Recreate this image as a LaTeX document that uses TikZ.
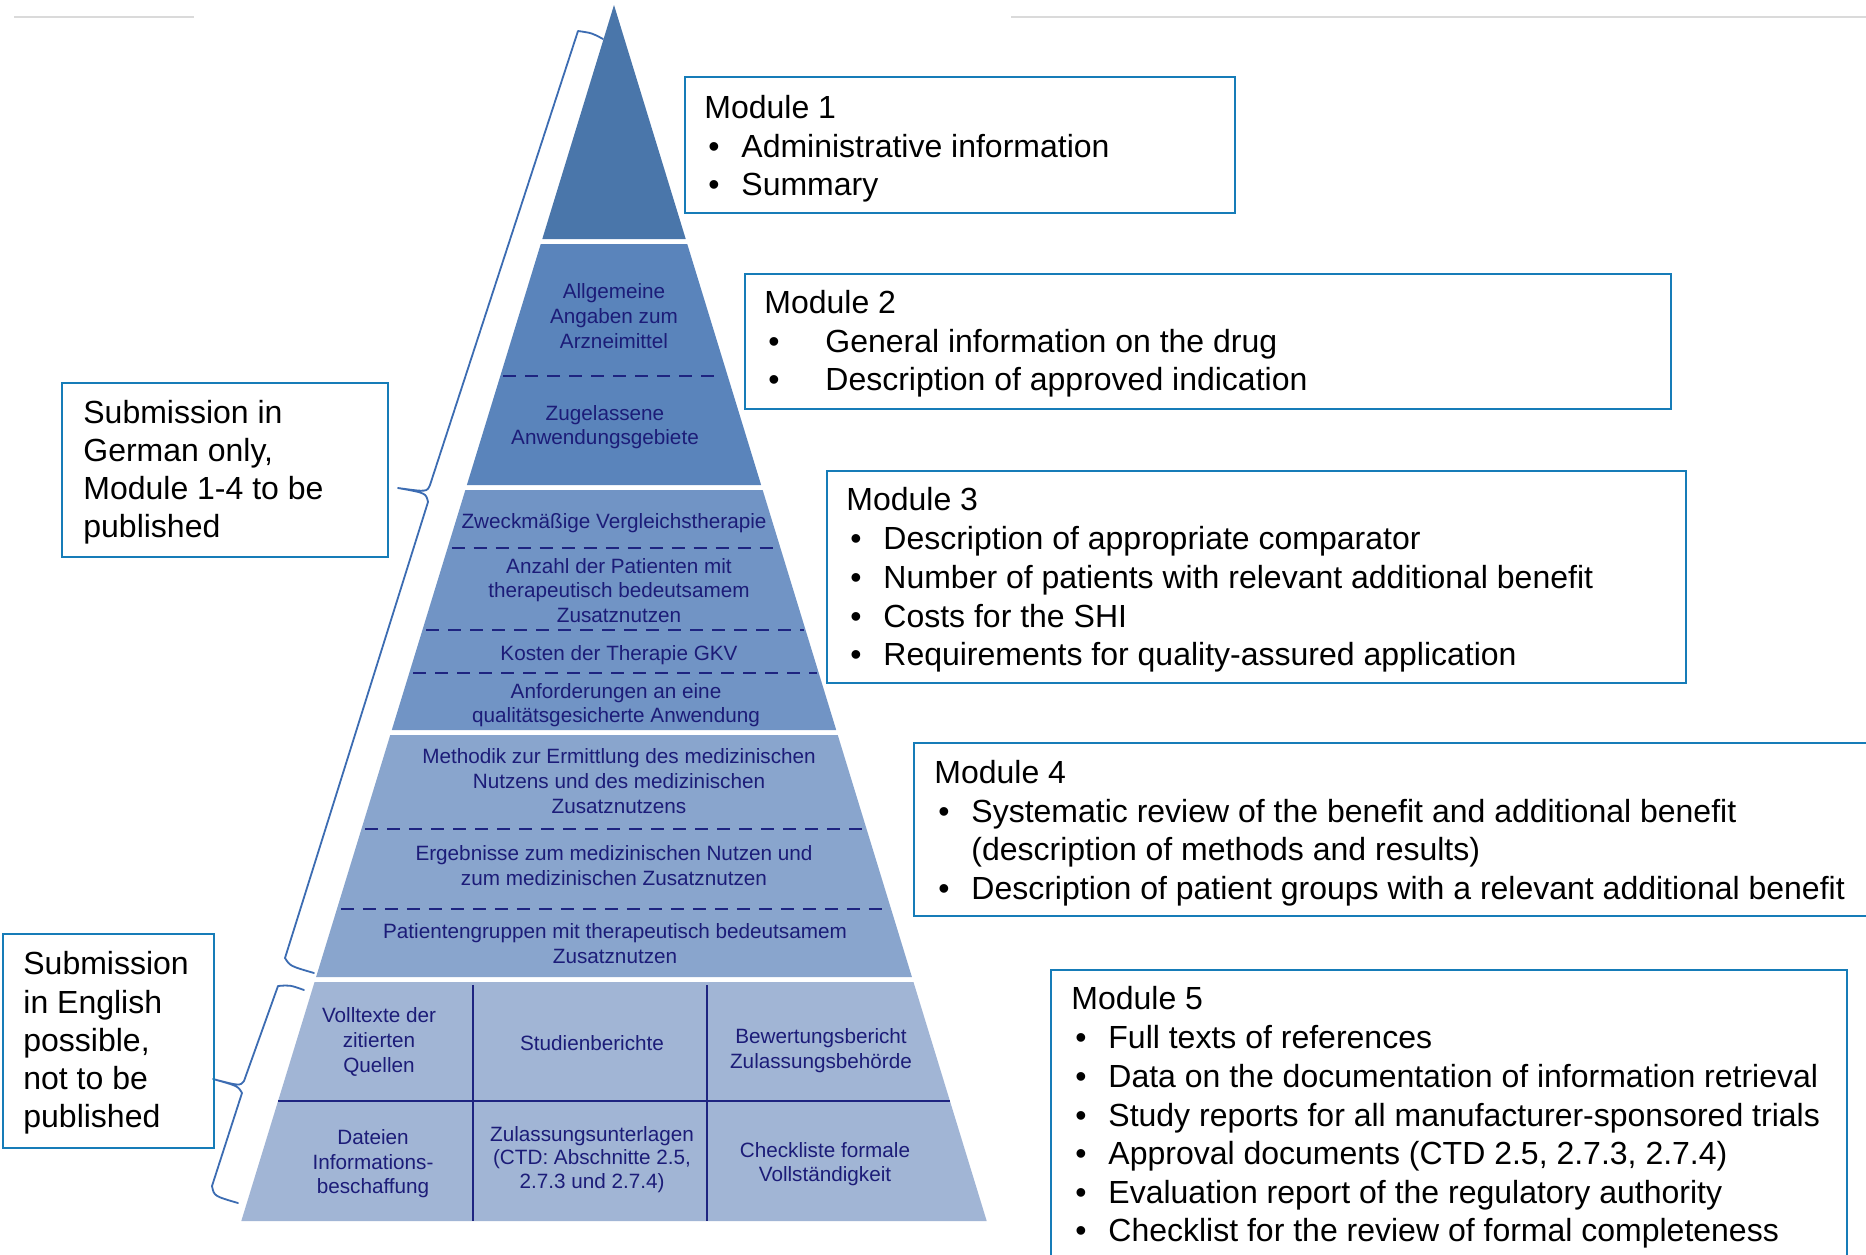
\documentclass[tikz,border=0pt]{standalone}
\usepackage{fontspec}
\setmainfont{Liberation Sans}
\usetikzlibrary{fit}
\definecolor{layA}{RGB}{74,118,170}
\definecolor{layB}{RGB}{90,132,187}
\definecolor{layC}{RGB}{113,148,197}
\definecolor{layD}{RGB}{137,165,205}
\definecolor{layE}{RGB}{161,181,213}
\definecolor{navytxt}{RGB}{28,28,120}
\definecolor{navyln}{RGB}{30,36,128}
\definecolor{boxblue}{RGB}{22,124,184}
\definecolor{braceblue}{RGB}{60,108,178}
\definecolor{topgray}{RGB}{218,218,218}
\newcommand\pyrfont{\fontsize{10.35pt}{12.5pt}\selectfont}
\newcommand\boxfont{\fontsize{16pt}{19.35pt}\selectfont}
\tikzset{
  pyrtxt/.style={font=\pyrfont, text=navytxt, anchor=base, inner sep=0pt},
  boxtxt/.style={font=\boxfont, text=black, anchor=base west, inner sep=0pt},
  mbox/.style={draw=boxblue, line width=1.1pt, inner sep=0pt},
  dashln/.style={draw=navyln, line width=1pt, dash pattern=on 6.5pt off 4.5pt},
  gridln/.style={draw=navyln, line width=1.2pt},
  bracepath/.style={draw=braceblue, line width=0.9pt, line join=round, line cap=round},
  topln/.style={draw=topgray, line width=1.4pt}
}
\begin{document}
\begin{tikzpicture}[x=0.5pt,y=-0.5pt, declare function={hw(\q)=0.3065*(\q-5);}]
\useasboundingbox (0,0) rectangle (1866,1254);
\fill[white] (0,0) rectangle (1866,1254);

% top gray rules
\draw[topln] (14,17) -- (194,17);
\draw[topln] (1011,17) -- (1866,17);

% pyramid layers
\fill[layA] (614,5) -- ({614+hw(239)},239) -- ({614-hw(239)},239) -- cycle;
\fill[layB] ({614-hw(244)},244) -- ({614+hw(244)},244) -- ({614+hw(485)},485) -- ({614-hw(485)},485) -- cycle;
\fill[layC] ({614-hw(490)},490) -- ({614+hw(490)},490) -- ({614+hw(730)},730) -- ({614-hw(730)},730) -- cycle;
\fill[layD] ({614-hw(735)},735) -- ({614+hw(735)},735) -- ({614+hw(977)},977) -- ({614-hw(977)},977) -- cycle;
\fill[layE] ({614-hw(982)},982) -- ({614+hw(982)},982) -- ({614+hw(1221)},1221) -- ({614-hw(1221)},1221) -- cycle;

% dashed separators
\draw[dashln] ({614-hw(376)+3},376) -- ({614+hw(376)-6},376);
\draw[dashln] ({614-hw(548)+4},548) -- ({614+hw(548)-2},548);
\draw[dashln] ({614-hw(630)+4},630) -- ({614+hw(630)-2},630);
\draw[dashln] ({614-hw(673)+4},673) -- ({614+hw(673)-2},673);
\draw[dashln] ({614-hw(829)+4},829) -- ({614+hw(829)-2},829);
\draw[dashln] ({614-hw(909)+4},909) -- ({614+hw(909)-2},909);

% grid of the base layer
\draw[gridln] ({614-hw(1101)},1101) -- ({614+hw(1101)},1101);
\draw[gridln] (473,985) -- (473,1221);
\draw[gridln] (707,985) -- (707,1221);

% pyramid texts
\node[pyrtxt] (a1) at (614,298) {Allgemeine};
\node[pyrtxt] (a2) at (614,323) {Angaben zum};
\node[pyrtxt] (a3) at (614,348) {Arzneimittel};
\node[pyrtxt] (b1) at (605,420) {Zugelassene};
\node[pyrtxt] (b2) at (605,444) {Anwendungsgebiete};
\node[pyrtxt] (c1) at (614,528) {Zweckmäßige Vergleichstherapie};
\node[pyrtxt] (d1) at (619,573) {Anzahl der Patienten mit};
\node[pyrtxt] (d2) at (619,597) {therapeutisch bedeutsamem};
\node[pyrtxt] (d3) at (619,622) {Zusatznutzen};
\node[pyrtxt] (e1) at (619,660) {Kosten der Therapie GKV};
\node[pyrtxt] (f1) at (616,698) {Anforderungen an eine};
\node[pyrtxt] (f2) at (616,722) {qualitätsgesicherte Anwendung};
\node[pyrtxt] (g1) at (619,763) {Methodik zur Ermittlung des medizinischen};
\node[pyrtxt] (g2) at (619,788) {Nutzens und des medizinischen};
\node[pyrtxt] (g3) at (619,813) {Zusatznutzens};
\node[pyrtxt] (h1) at (614,860) {Ergebnisse zum medizinischen Nutzen und};
\node[pyrtxt] (h2) at (614,885) {zum medizinischen Zusatznutzen};
\node[pyrtxt] (i1) at (615,938) {Patientengruppen mit therapeutisch bedeutsamem};
\node[pyrtxt] (i2) at (615,963) {Zusatznutzen};
\node[pyrtxt] (j1) at (379,1022) {Volltexte der};
\node[pyrtxt] (j2) at (379,1047) {zitierten};
\node[pyrtxt] (j3) at (379,1072) {Quellen};
\node[pyrtxt] (k1) at (592,1050) {Studienberichte};
\node[pyrtxt] (l1) at (821,1043) {Bewertungsbericht};
\node[pyrtxt] (l2) at (821,1068) {Zulassungsbehörde};
\node[pyrtxt] (n1) at (373,1144) {Dateien};
\node[pyrtxt] (n2) at (373,1169) {Informations-};
\node[pyrtxt] (n3) at (373,1193) {beschaffung};
\node[pyrtxt] (o1) at (592,1141) {Zulassungsunterlagen};
\node[pyrtxt] (o2) at (592,1164) {(CTD: Abschnitte 2.5,};
\node[pyrtxt] (o3) at (592,1188) {2.7.3 und 2.7.4)};
\node[pyrtxt] (p1) at (825,1157) {Checkliste formale};
\node[pyrtxt] (p2) at (825,1181) {Vollständigkeit};

% braces
\draw[bracepath] (603,39) .. controls (592,33) .. (578,31) -- (430,485) .. controls (427,492) .. (398,488)
  .. controls (426,493) .. (428,502) -- (285,958) .. controls (290,966) .. (314,973);
\draw[bracepath] (304,990) .. controls (290,985) .. (278,986) -- (244,1081) .. controls (240,1086) .. (213,1079)
  .. controls (238,1086) .. (242,1093) -- (212,1186) .. controls (214,1196) .. (238,1203);

% left boxes
\node[mbox, fit={(62,383)(388,557)}] (lbox1) {};
\node[boxtxt] (lb1a) at (83,423) {Submission in};
\node[boxtxt] (lb1b) at (83,461) {German only,};
\node[boxtxt] (lb1c) at (83,499) {Module 1-4 to be};
\node[boxtxt] (lb1d) at (83,537) {published};

\node[mbox, fit={(3,934)(214,1148)}] (lbox2) {};
\node[boxtxt] (lb2a) at (23,974) {Submission};
\node[boxtxt] (lb2b) at (23,1013) {in English};
\node[boxtxt] (lb2c) at (23,1051) {possible,};
\node[boxtxt] (lb2d) at (23,1089) {not to be};
\node[boxtxt] (lb2e) at (23,1127) {published};

% module 1
\node[mbox, fit={(685,77)(1235,213)}] (m1) {};
\node[boxtxt] (m1h) at (704,118) {Module 1};
\node[boxtxt] (m1b1) at (708,157) {•};
\node[boxtxt] (m1t1) at (741,157) {Administrative information};
\node[boxtxt] (m1b2) at (708,195) {•};
\node[boxtxt] (m1t2) at (741,195) {Summary};

% module 2
\node[mbox, fit={(745,274)(1671,409)}] (m2) {};
\node[boxtxt] (m2h) at (764,313) {Module 2};
\node[boxtxt] (m2b1) at (768,352) {•};
\node[boxtxt] (m2t1) at (825,352) {General information on the drug};
\node[boxtxt] (m2b2) at (768,390) {•};
\node[boxtxt] (m2t2) at (825,390) {Description of approved indication};

% module 3
\node[mbox, fit={(827,471)(1686,683)}] (m3) {};
\node[boxtxt] (m3h) at (846,510) {Module 3};
\node[boxtxt] (m3b1) at (850,549) {•};
\node[boxtxt] (m3t1) at (883,549) {Description of appropriate comparator};
\node[boxtxt] (m3b2) at (850,588) {•};
\node[boxtxt] (m3t2) at (883,588) {Number of patients with relevant additional benefit};
\node[boxtxt] (m3b3) at (850,627) {•};
\node[boxtxt] (m3t3) at (883,627) {Costs for the SHI};
\node[boxtxt] (m3b4) at (850,665) {•};
\node[boxtxt] (m3t4) at (883,665) {Requirements for quality-assured application};

% module 4
\node[mbox, fit={(914,743)(1890,916)}] (m4) {};
\node[boxtxt] (m4h) at (934,783) {Module 4};
\node[boxtxt] (m4b1) at (938,822) {•};
\node[boxtxt] (m4t1) at (971,822) {Systematic review of the benefit and additional benefit};
\node[boxtxt] (m4t2) at (971,860) {(description of methods and results)};
\node[boxtxt] (m4b3) at (938,899) {•};
\node[boxtxt] (m4t3) at (971,899) {Description of patient groups with a relevant additional benefit};

% module 5
\node[mbox, fit={(1051,970)(1847,1290)}] (m5) {};
\node[boxtxt] (m5h) at (1071,1009) {Module 5};
\node[boxtxt] (m5b1) at (1075,1048) {•};
\node[boxtxt] (m5t1) at (1108,1048) {Full texts of references};
\node[boxtxt] (m5b2) at (1075,1087) {•};
\node[boxtxt] (m5t2) at (1108,1087) {Data on the documentation of information retrieval};
\node[boxtxt] (m5b3) at (1075,1126) {•};
\node[boxtxt] (m5t3) at (1108,1126) {Study reports for all manufacturer-sponsored trials};
\node[boxtxt] (m5b4) at (1075,1164) {•};
\node[boxtxt] (m5t4) at (1108,1164) {Approval documents (CTD 2.5, 2.7.3, 2.7.4)};
\node[boxtxt] (m5b5) at (1075,1203) {•};
\node[boxtxt] (m5t5) at (1108,1203) {Evaluation report of the regulatory authority};
\node[boxtxt] (m5b6) at (1075,1241) {•};
\node[boxtxt] (m5t6) at (1108,1241) {Checklist for the review of formal completeness};
\end{tikzpicture}
\end{document}
